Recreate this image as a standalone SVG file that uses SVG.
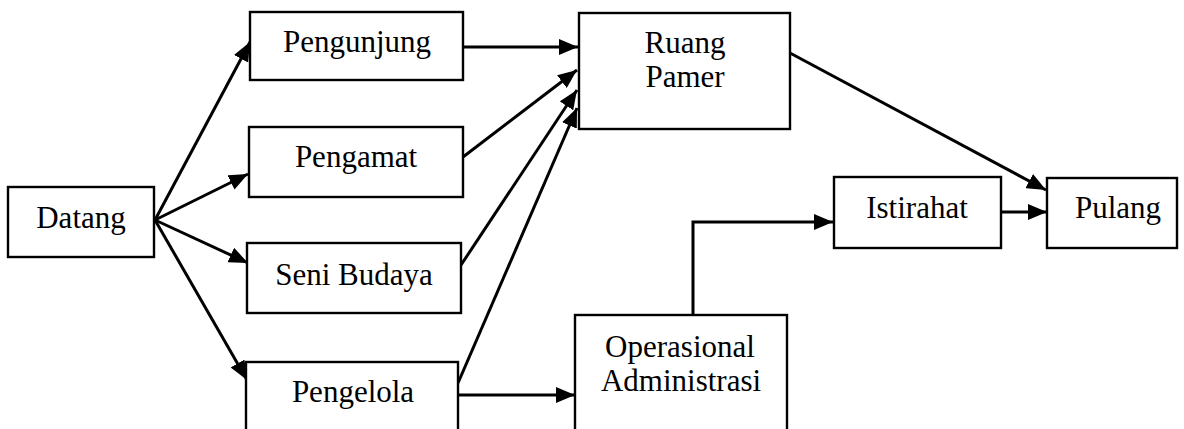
<svg xmlns="http://www.w3.org/2000/svg" width="1184" height="429" viewBox="0 0 1184 429">
<style>
.box{fill:#fff;stroke:#000;stroke-width:2.4}
.lbl{font-family:"Liberation Serif","Times New Roman",serif;font-size:31px;fill:#000;text-anchor:middle}
.con{fill:none;stroke:#000;stroke-width:3}
</style>
<defs>
<marker id="ah" markerUnits="userSpaceOnUse" markerWidth="20" markerHeight="16" refX="19" refY="8" orient="auto">
<path d="M0,0 L19,8 L0,16 z" fill="#000"/>
</marker>
</defs>
<rect width="1184" height="429" fill="#fff"/>
<g id="connectors">
<line class="con" x1="155" y1="220" x2="250" y2="42" marker-end="url(#ah)"/>
<line class="con" x1="155" y1="220" x2="248" y2="174" marker-end="url(#ah)"/>
<line class="con" x1="155" y1="220" x2="248" y2="263" marker-end="url(#ah)"/>
<line class="con" x1="155" y1="220" x2="247" y2="380" marker-end="url(#ah)"/>
<line class="con" x1="463" y1="47" x2="578" y2="47" marker-end="url(#ah)"/>
<line class="con" x1="463" y1="157" x2="577" y2="70" marker-end="url(#ah)"/>
<line class="con" x1="461" y1="265" x2="577" y2="90" marker-end="url(#ah)"/>
<line class="con" x1="458" y1="383" x2="577" y2="108" marker-end="url(#ah)"/>
<line class="con" x1="458" y1="395" x2="575" y2="395" marker-end="url(#ah)"/>
<polyline class="con" points="693,315 693,222 833,222" marker-end="url(#ah)"/>
<line class="con" x1="1001" y1="212" x2="1047" y2="212" marker-end="url(#ah)"/>
<line class="con" x1="790" y1="53" x2="1046" y2="190" marker-end="url(#ah)"/>
</g>
<g id="datang"><rect class="box" x="8" y="187" width="146" height="70"/><text class="lbl" x="81" y="228">Datang</text></g>
<g id="pengunjung"><rect class="box" x="250" y="12" width="213" height="68"/><text class="lbl" x="357" y="52">Pengunjung</text></g>
<g id="pengamat"><rect class="box" x="249" y="127" width="214" height="70"/><text class="lbl" x="356" y="167">Pengamat</text></g>
<g id="seni-budaya"><rect class="box" x="247" y="243" width="214" height="70"/><text class="lbl" x="354" y="285">Seni Budaya</text></g>
<g id="pengelola"><rect class="box" x="246" y="362" width="212" height="80"/><text class="lbl" x="353" y="402">Pengelola</text></g>
<g id="ruang-pamer"><rect class="box" x="579" y="13" width="211" height="116"/><text class="lbl" x="685" y="53">Ruang</text><text class="lbl" x="685" y="87">Pamer</text></g>
<g id="operasional-administrasi"><rect class="box" x="575" y="315" width="212" height="130"/><text class="lbl" x="680" y="357">Operasional</text><text class="lbl" x="681" y="391">Administrasi</text></g>
<g id="istirahat"><rect class="box" x="834" y="177" width="167" height="71"/><text class="lbl" x="917" y="218">Istirahat</text></g>
<g id="pulang"><rect class="box" x="1047" y="178" width="130" height="70"/><text class="lbl" x="1118" y="218">Pulang</text></g>
</svg>
